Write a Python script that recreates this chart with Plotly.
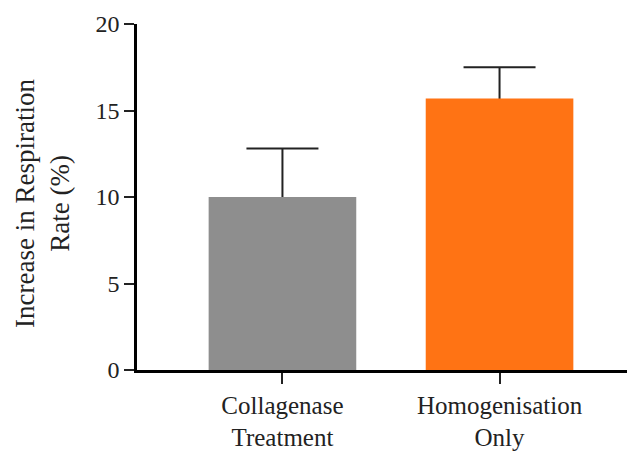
import plotly.graph_objects as go

categories = ["Collagenase<br>Treatment", "Homogenisation<br>Only"]
values = [10.0, 15.7]
errors = [2.8, 1.8]
colors = ["#8e8e8e", "#ff7314"]
y_ticks = [0, 5, 10, 15, 20]

font = "Liberation Serif, Times New Roman, serif"
ink = "#222222"

# the page body has an 8px margin: the figure is offset by 8px
W, H, OFF = 635, 452, 8

fig = go.Figure()
# error bars (drawn first, lower half hidden by the bars)
fig.add_trace(go.Bar(
    x=categories, y=values,
    marker=dict(color="rgba(0,0,0,0)", line=dict(width=0)),
    width=0.68, hoverinfo="skip",
    error_y=dict(type="data", array=errors, symmetric=True,
                 color=ink, thickness=2, width=36),
))
fig.add_trace(go.Bar(
    x=categories, y=values,
    marker=dict(color=colors, line=dict(width=0)),
    width=0.68,
))

fig.update_layout(
    width=W - OFF, height=H - OFF,
    barmode="overlay",
    margin=dict(l=137 - OFF, r=0, t=24 - OFF, b=82),
    plot_bgcolor="white", paper_bgcolor="white",
    showlegend=False,
    font=dict(family=font, size=20, color=ink),
    xaxis=dict(
        type="category",
        range=[-0.67, 1.624],
        automargin=False,
        showline=True, linecolor="black", linewidth=2.5,
        ticks="outside", ticklen=11, tickwidth=1.5, tickcolor=ink,
        tickfont=dict(family=font, size=25, color=ink),
        showgrid=False, zeroline=False,
    ),
    yaxis=dict(
        range=[0, 20],
        automargin=False,
        tickvals=y_ticks,
        showline=True, linecolor="black", linewidth=2.5,
        ticks="outside", ticklen=10, tickwidth=1.5, tickcolor=ink,
        tickfont=dict(family=font, size=24, color=ink),
        showgrid=False, zeroline=False,
    ),
    annotations=[dict(
        text="Increase in Respiration<br>Rate (%)",
        xref="paper", yref="paper", x=(43 - 137) / 498, y=0.48,
        xanchor="center", yanchor="middle", textangle=-90, showarrow=False,
        font=dict(family=font, size=27, color=ink),
    )],
)

fig.write_html("out.html")
